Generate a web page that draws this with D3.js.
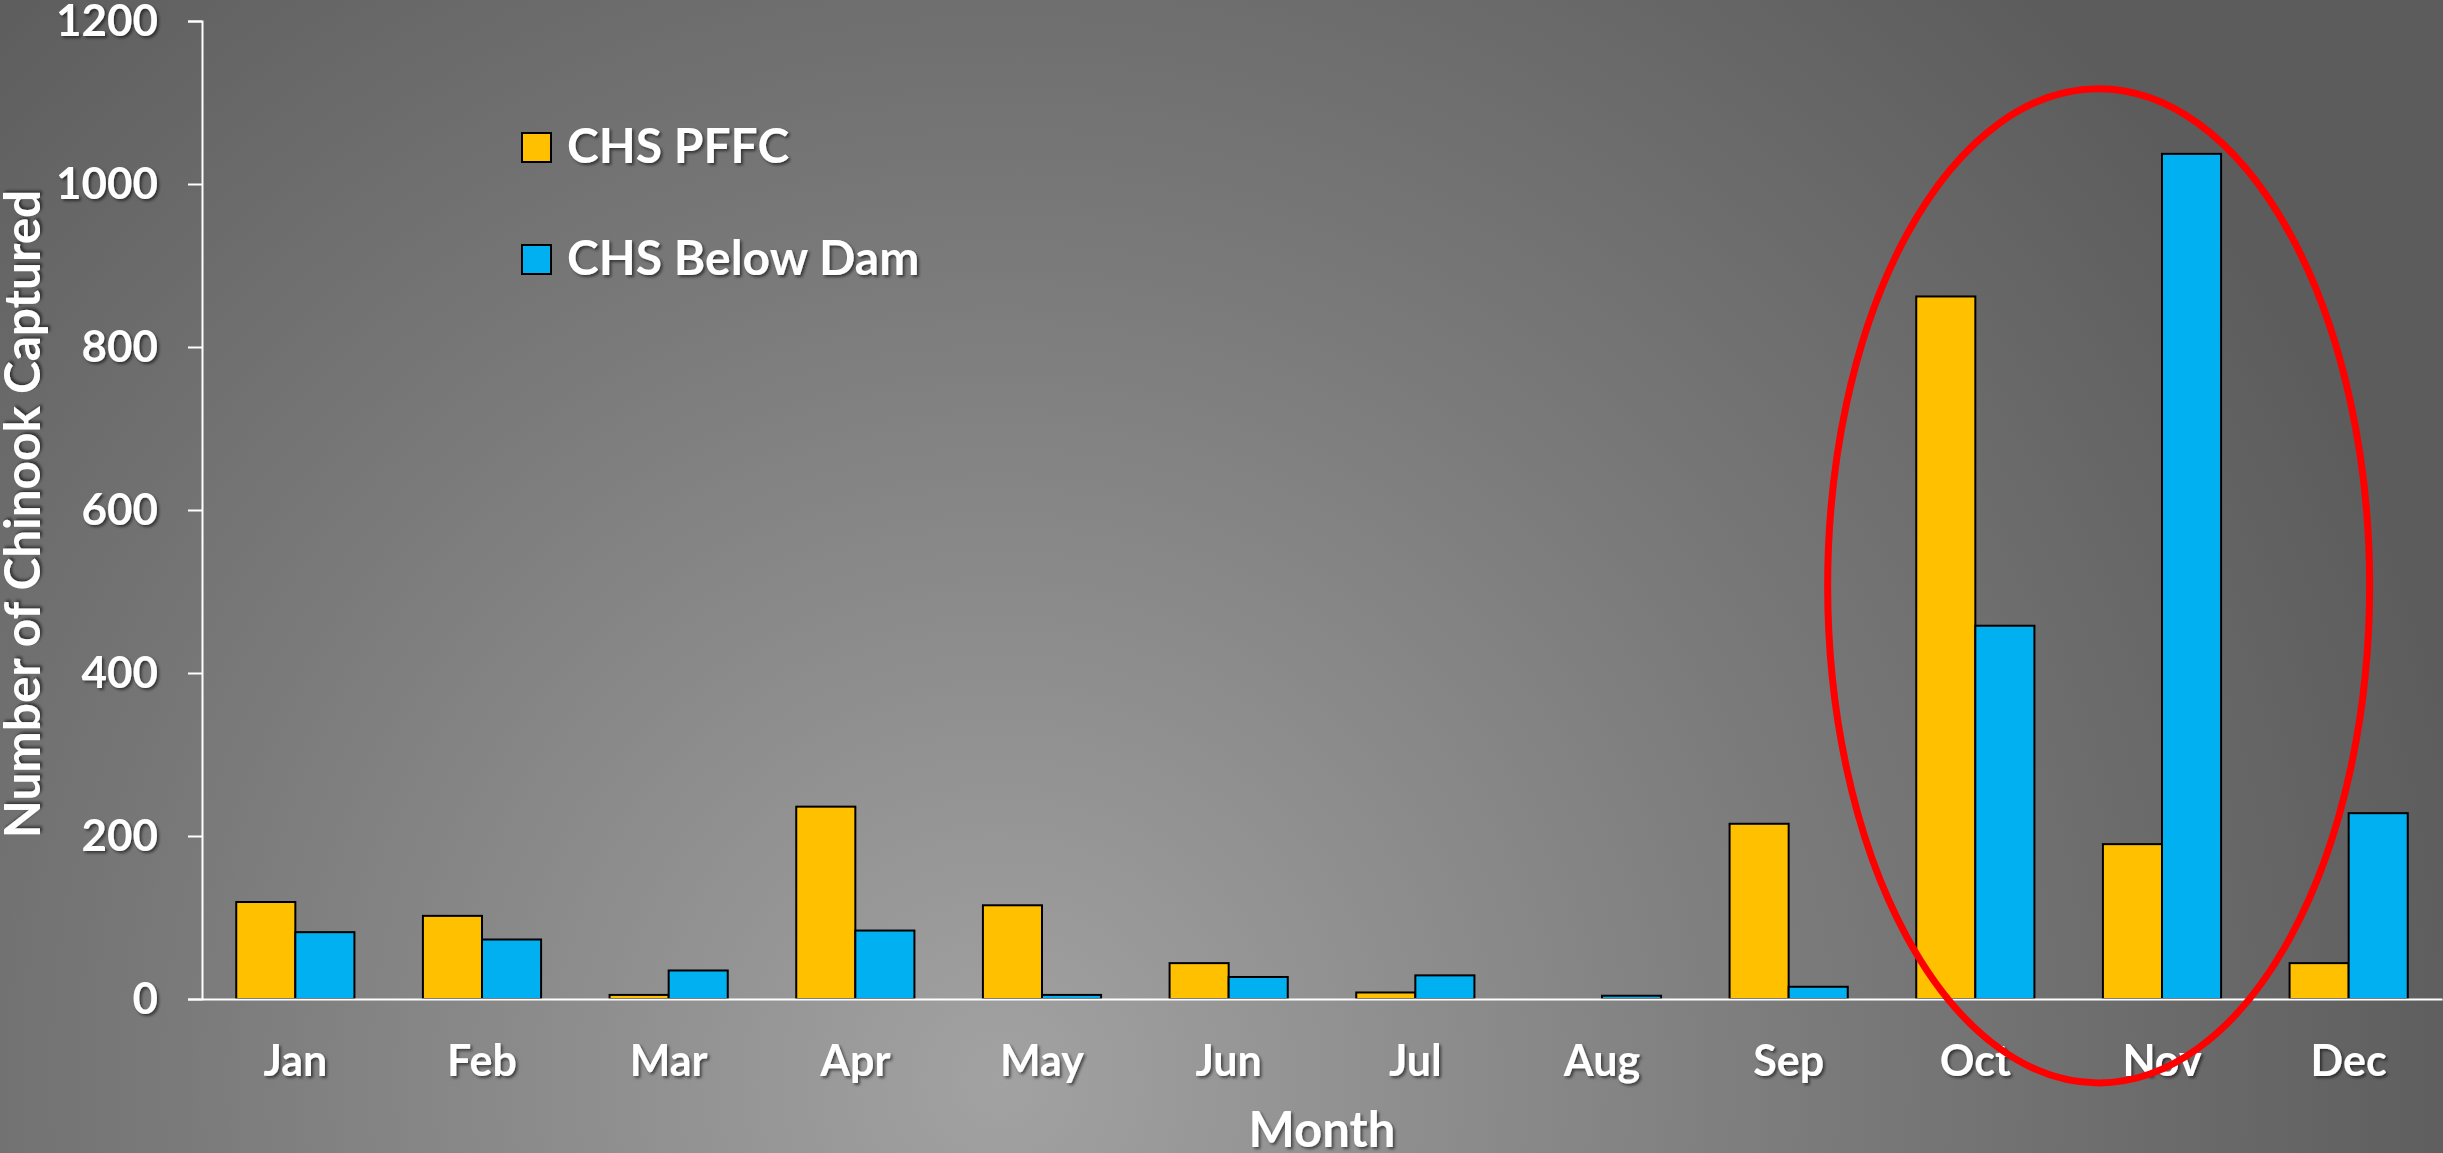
<!DOCTYPE html>
<html>
<head>
<meta charset="utf-8">
<script src="https://cdn.jsdelivr.net/npm/d3@7"></script>
<style>
  html, body { margin: 0; padding: 0; background: #636363; overflow: hidden; }
  svg { display: block; }
  text { font-family: Lato, "Open Sans", sans-serif; font-weight: 700; fill: #fff; }
</style>
</head>
<body>
<div id="chart"></div>
<script>
const W = 2443;
const H = 1153;

const months = ["Jan", "Feb", "Mar", "Apr", "May", "Jun", "Jul", "Aug", "Sep", "Oct", "Nov", "Dec"];
const seriesNames = ["CHS PFFC", "CHS Below Dam"];
const pffc = [119, 102, 5, 236, 115, 44, 8, 0, 215, 862, 190, 44];
const belowDam = [82, 73, 35, 84, 5, 27, 29, 4, 15, 458, 1037, 228];
const yTicks = [0, 200, 400, 600, 800, 1000, 1200];
const colors = ["#FFC000", "#00B0F0"];

const plotLeft = 202, plotRight = 2442, plotTop = 21, plotBottom = 999;

const svg = d3.select("#chart")
  .append("svg")
  .attr("width", W)
  .attr("height", H);

const defs = svg.append("defs");
const grad = defs.append("radialGradient")
  .attr("id", "bg")
  .attr("gradientUnits", "userSpaceOnUse")
  .attr("cx", 1000).attr("cy", 1080).attr("r", 1500);
grad.append("stop").attr("offset", "0").attr("stop-color", "#a2a2a2");
grad.append("stop").attr("offset", "0.55").attr("stop-color", "#7a7a7a");
grad.append("stop").attr("offset", "1").attr("stop-color", "#5c5c5c");

const shadow = defs.append("filter").attr("id", "shadow")
  .attr("x", "-10%").attr("y", "-10%").attr("width", "130%").attr("height", "140%");
shadow.append("feDropShadow")
  .attr("dx", 2).attr("dy", 2).attr("stdDeviation", 1.5)
  .attr("flood-color", "#000").attr("flood-opacity", 0.55);

svg.append("rect").attr("width", W).attr("height", H).attr("fill", "url(#bg)");

const x = d3.scaleBand()
  .domain(months)
  .range([plotLeft, plotRight])
  .paddingInner(0.367)
  .paddingOuter(0.1835);

const x1 = d3.scaleBand()
  .domain(seriesNames)
  .range([0, x.bandwidth()]);

const y = d3.scaleLinear()
  .domain([0, 1200])
  .range([plotBottom, plotTop]);

const color = d3.scaleOrdinal().domain(seriesNames).range(colors);

const rows = months.map(function (m, i) {
  return { month: m, values: [
    { name: seriesNames[0], v: pffc[i] },
    { name: seriesNames[1], v: belowDam[i] }
  ] };
});

// bars
const groups = svg.append("g")
  .selectAll("g")
  .data(rows).enter()
  .append("g")
  .attr("transform", function (d) { return "translate(" + x(d.month) + ",0)"; });

groups.selectAll("rect")
  .data(function (d) { return d.values.filter(function (e) { return e.v > 0; }); })
  .enter()
  .append("rect")
  .attr("x", function (d) { return x1(d.name); })
  .attr("y", function (d) { return y(d.v); })
  .attr("width", x1.bandwidth())
  .attr("height", function (d) { return y(0) - y(d.v); })
  .attr("fill", function (d) { return color(d.name); })
  .attr("stroke", "#000")
  .attr("stroke-width", 2);

// y axis
const yAxis = svg.append("g")
  .attr("transform", "translate(" + plotLeft + ",0)")
  .call(d3.axisLeft(y).tickValues(yTicks).tickSize(14).tickPadding(30).tickFormat(d3.format("d")));
yAxis.select(".domain").attr("stroke", "#fff").attr("stroke-width", 2);
yAxis.selectAll(".tick line").attr("stroke", "#fff").attr("stroke-width", 2);
yAxis.selectAll(".tick text")
  .attr("fill", "#fff")
  .style("font-family", "Lato, sans-serif")
  .style("font-weight", 700)
  .style("font-size", "44px")
  .attr("filter", "url(#shadow)");

// x axis
const xAxis = svg.append("g")
  .attr("transform", "translate(0," + plotBottom + ")")
  .call(d3.axisBottom(x).tickSize(0).tickPadding(46));
xAxis.select(".domain").attr("stroke", "#fff").attr("stroke-width", 2);
xAxis.selectAll(".tick text")
  .attr("fill", "#fff")
  .attr("dy", "0.71em")
  .style("font-family", "Lato, sans-serif")
  .style("font-weight", 700)
  .style("font-size", "43px")
  .attr("filter", "url(#shadow)");

// axis titles
svg.append("text")
  .attr("x", (plotLeft + plotRight) / 2)
  .attr("y", 1147)
  .attr("text-anchor", "middle")
  .style("font-size", "49px")
  .attr("filter", "url(#shadow)")
  .text("Month");

svg.append("text")
  .attr("transform", "translate(40," + ((plotTop + plotBottom) / 2 + 4) + ") rotate(-90)")
  .attr("text-anchor", "middle")
  .style("font-size", "49.5px")
  .attr("filter", "url(#shadow)")
  .text("Number of Chinook Captured");

// legend
const legend = svg.append("g")
  .selectAll("g")
  .data(seriesNames).enter()
  .append("g")
  .attr("transform", function (d, i) { return "translate(522," + (133 + i * 112) + ")"; });
legend.append("rect")
  .attr("width", 29).attr("height", 29)
  .attr("fill", function (d) { return color(d); })
  .attr("stroke", "#000").attr("stroke-width", 2);
legend.append("text")
  .attr("x", 45).attr("y", 30)
  .style("font-size", "48px")
  .attr("filter", "url(#shadow)")
  .text(function (d) { return d; });

// highlight ellipse around Oct-Nov
const ex = (x("Oct") + x("Nov") + x.bandwidth()) / 2 + 30;
svg.append("ellipse")
  .attr("cx", ex)
  .attr("cy", y(507))
  .attr("rx", 271)
  .attr("ry", y(0) - y(610))
  .attr("fill", "none")
  .attr("stroke", "#ff0000")
  .attr("stroke-width", 7);
</script>
</body>
</html>
